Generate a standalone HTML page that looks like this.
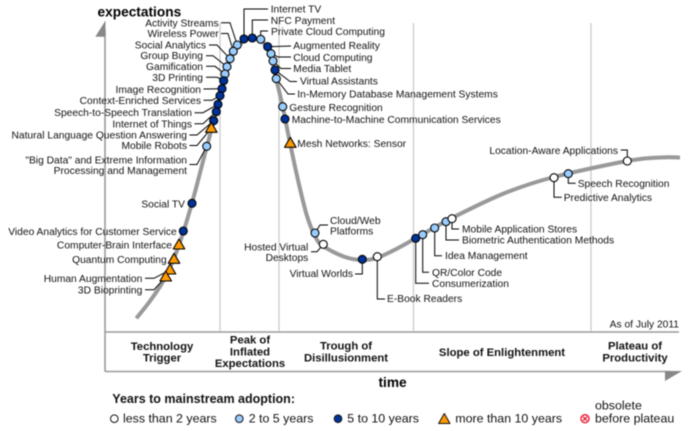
<!DOCTYPE html>
<html lang="en">
<head>
<meta charset="utf-8">
<title>Hype Cycle for Emerging Technologies, 2011</title>
<style>
html,body{margin:0;padding:0;background:#fff;width:690px;height:431px;overflow:hidden}
svg{display:block;font-family:"Liberation Sans",Arial,sans-serif;filter:blur(0.4px)}
.lbl{font-size:10.25px;fill:#111}
.phase{font-size:11.3px;font-weight:bold;fill:#111;text-anchor:middle}
.leg{font-size:12.4px;fill:#111}
</style>
</head>
<body>
<svg id="chart" width="690" height="431" viewBox="0 0 690 431" xmlns="http://www.w3.org/2000/svg">
  <g stroke="#d2d2d2" stroke-width="1.5">
    <line x1="220" y1="23" x2="220" y2="331"/>
    <line x1="279" y1="23" x2="279" y2="331"/>
    <line x1="413.5" y1="23" x2="413.5" y2="331"/>
    <line x1="591" y1="23" x2="591" y2="331"/>
  </g>
  <g stroke="#999" stroke-width="1.6" fill="none">
    <line x1="105" y1="30" x2="105" y2="371.5"/>
    <line x1="105" y1="332" x2="679" y2="332"/>
    <line x1="105" y1="371.5" x2="670" y2="371.5"/>
  </g>
  <polygon points="95.3,36.7 105.5,36.7 105.5,20.5" fill="#888"/>
  <polygon points="665,371 682,371 665,381" fill="#888"/>
  <text x="97.5" y="16.5" font-size="13.7" font-weight="bold" fill="#000">expectations</text>
  <text x="378.5" y="387" font-size="13.7" font-weight="bold" fill="#000">time</text>
  <text class="lbl" x="679" y="327.5" text-anchor="end">As of July 2011</text>

  <g>
    <text class="phase" x="162" y="350">Technology</text>
    <text class="phase" x="162" y="361.5">Trigger</text>
    <text class="phase" x="250" y="343.5">Peak of</text>
    <text class="phase" x="250" y="355.5">Inflated</text>
    <text class="phase" x="250" y="367">Expectations</text>
    <text class="phase" x="346" y="349.5">Trough of</text>
    <text class="phase" x="346" y="361.5">Disillusionment</text>
    <text class="phase" x="502" y="356">Slope of Enlightenment</text>
    <text class="phase" x="635" y="349.5">Plateau of</text>
    <text class="phase" x="635" y="361.5">Productivity</text>
  </g>

  <g>
    <text x="112.3" y="403" font-size="12.5" font-weight="bold" fill="#111">Years to mainstream adoption:</text>
    <circle cx="114.3" cy="418.7" r="3.8" fill="#fff" stroke="#111" stroke-width="1"/>
    <text class="leg" x="123" y="422.7">less than 2 years</text>
    <circle cx="239.3" cy="418.7" r="3.8" fill="#99ccff" stroke="#111" stroke-width="1"/>
    <text class="leg" x="248.7" y="422.7">2 to 5 years</text>
    <circle cx="338" cy="418.7" r="3.8" fill="#003399" stroke="#111" stroke-width="1"/>
    <text class="leg" x="347.3" y="422.7">5 to 10 years</text>
    <polygon points="444.3,413.5 450,423.5 438.6,423.5" fill="#ff9900" stroke="#111" stroke-width="1" stroke-linejoin="round"/>
    <text class="leg" x="455.3" y="422.7">more than 10 years</text>
    <g stroke="#e8102a" fill="none">
      <circle cx="585" cy="418.7" r="4" stroke-width="1.3"/>
      <path d="M583 416.7l4 4M587 416.7l-4 4" stroke-width="1.2"/>
    </g>
    <text class="leg" x="595" y="409.7">obsolete</text>
    <text class="leg" x="595" y="422.7">before plateau</text>
  </g>

  <path id="hype-curve" fill="none" stroke="#999" stroke-width="4" stroke-linecap="butt" stroke-linejoin="round"/>
  <g id="leaders" fill="none" stroke="#000" stroke-width="1"></g>
  <g id="markers"></g>
  <g id="labels"></g>
</svg>
<script>
// --- chart data (time and expectations in axis units) ---
const curveTime = [6.26, 9, 12, 14.8, 17.4, 20.4, 21.8, 23.4, 25, 27, 29.4, 31.8, 33.2, 34.2, 35.6, 37, 38.6, 40.34, 42, 43.6, 48, 51.6, 54.6, 59, 62.2, 69.4, 80, 89.8, 104.4, 111, 115];
const curveExpectation = [4.57, 10.33, 18, 29, 43, 62, 70.67, 81, 91, 96, 97.83, 96.33, 92, 84.67, 74.67, 63, 50.67, 39, 32, 28.67, 25, 24, 24.83, 28.33, 31.33, 38, 46.33, 51.67, 57, 58.17, 58.17];
const technologies = ["Internet TV", "NFC Payment", "Private Cloud Computing", "Augmented Reality", "Cloud Computing", "Media Tablet", "Virtual Assistants", "In-Memory Database Management Systems", "Gesture Recognition", "Machine-to-Machine Communication Services", "Mesh Networks: Sensor", "Activity Streams", "Wireless Power", "Social Analytics", "Group Buying", "Gamification", "3D Printing", "Image Recognition", "Context-Enriched Services", "Speech-to-Speech Translation", "Internet of Things", "Natural Language Question Answering", "Mobile Robots", "\"Big Data\" and Extreme Information|Processing and Management", "Social TV", "Video Analytics for Customer Service", "Computer-Brain Interface", "Quantum Computing", "Human Augmentation", "3D Bioprinting", "Cloud/Web|Platforms", "Hosted Virtual|Desktops", "Virtual Worlds", "E-Book Readers", "Consumerization", "QR/Color Code", "Idea Management", "Biometric Authentication Methods", "Mobile Application Stores", "Predictive Analytics", "Speech Recognition", "Location-Aware Applications"];
const timeValues = [27.8, 29.46, 31.14, 32.54, 33.2, 33.6, 34, 34.26, 35.54, 36, 37.06, 26.46, 25.66, 25, 24.4, 24, 23.74, 23.4, 23, 22.6, 22.26, 21.74, 21.26, 20.34, 17.4, 15.66, 14.8, 13.8, 13, 12.14, 42, 43.66, 51.46, 54.46, 62.14, 63.54, 65.94, 68.2, 69.4, 89.8, 92.66, 104.46];
const expectationValues = [97.7, 98, 97.57, 95.1, 92.77, 90.33, 87.33, 84.43, 75.1, 71, 62.9, 95.67, 93.57, 91.1, 88.43, 86, 83.77, 81.1, 78.77, 75.9, 73.43, 70.43, 67.9, 61.9, 42.9, 33.67, 29, 24.23, 20.67, 18.33, 33, 29.23, 24.23, 25.1, 31.23, 32.43, 34.67, 36.77, 37.77, 51.43, 52.77, 57];
const adoptionGroups = ["5-10", "5-10", "2-5", "5-10", "2-5", "2-5", "5-10", "2-5", "2-5", "5-10", "10+", "2-5", "2-5", "2-5", "2-5", "2-5", "5-10", "5-10", "5-10", "5-10", "5-10", "5-10", "10+", "2-5", "5-10", "5-10", "10+", "10+", "10+", "10+", "2-5", "<2", "5-10", "<2", "5-10", "2-5", "2-5", "2-5", "<2", "<2", "2-5", "<2"];

// --- axis functions ---
function sx(t) { return 105 + t * 5; }
function sy(e) { return 332 - e * 3; }

// --- annotation layout (label placement, not data): [x, baseline, anchor] ---
const labelPlacement = [
  [270.7,12.5,"start"],[270.7,24,"start"],[271,35,"start"],[293.3,49,"start"],[293.3,61,"start"],[293.3,72,"start"],[300,84.5,"start"],[297.3,97.5,"start"],[289.3,111,"start"],[291.7,123,"start"],[297.3,147,"start"],
  [218.7,26.5,"end"],[218.7,37,"end"],[206,48.5,"end"],[203,59,"end"],[203,70,"end"],[203,81,"end"],[201,93,"end"],[201,104,"end"],[192,116,"end"],[192,127.5,"end"],[187,138.5,"end"],[187,149,"end"],[187,163.5,"end"],[185,207.5,"end"],[176.7,235,"end"],[172,248.5,"end"],[166.7,263,"end"],[142.3,282,"end"],[142.3,293.5,"end"],
  [330,224,"start"],[308.3,250.5,"end"],[353,277,"end"],[387,302,"start"],[432,287,"start"],[432,276,"start"],[445,259,"start"],[462,243.5,"start"],[462,232.5,"start"],[563.7,201,"start"],[577.7,187,"start"],[618,154,"end"]
];
const leaderRoutes = [
  [[268,9],[244,9]],[[268,20],[252.3,20]],[[268,31],[260.7,31]],[[291,46]],[[291,57],[278,57]],[[291,68.5],[281,68.5]],[[297,81.5],[290,81.5]],[[295,94],[288,94]],null,null,null,
  [[221,22.7],[230,22.7]],[[221,33.5],[228,33.5]],[[209,45],[217,45]],[[206,55.7],[213,55.7]],[[206,66.3],[215,66.3]],[[206,77.3],[217,77.3]],[[203.5,89]],[[203.5,100.3],[212,100.3]],[[194.5,112.7],[203,112.7]],[[194.5,123.7],[203,123.7]],[[189.5,135],[197,135]],[[189.5,145.5],[197,145.5]],[[189.5,164.5],[197,164.5]],null,null,null,null,[[145,278.3],[154,278.3]],[[145,289.7],[154,289.7]],
  [[328,225],[320,225]],[[311,251.7],[317,251.7]],[[355,274],[362.3,274]],[[385,299],[377.3,299]],[[429,283.3],[415.7,283.3]],[[429,272.3],[422.7,272.3]],[[442,255.7],[434.7,255.7]],[[459,240],[446,240]],[[459,229],[452,229]],[[561.7,197.3],[554,197.3]],[[575.7,183.3],[568.3,183.3]],[[620.7,150],[627.3,150]]
];

const NS = "http://www.w3.org/2000/svg";
const fillFor = { "<2": "#ffffff", "2-5": "#99ccff", "5-10": "#003399", "10+": "#ff9900" };

function slug(s) {
  return s.toLowerCase().replace(/[^a-z0-9]+/g, "-").replace(/^-|-$/g, "");
}

// smooth curve through the curve arrays
(function drawCurve() {
  const pts = curveTime.map(function (t, i) { return [sx(t), sy(curveExpectation[i])]; });
  let d = "M" + pts[0][0].toFixed(1) + " " + pts[0][1].toFixed(1);
  for (let i = 0; i < pts.length - 1; i++) {
    const p0 = pts[Math.max(i - 1, 0)], p1 = pts[i], p2 = pts[i + 1], p3 = pts[Math.min(i + 2, pts.length - 1)];
    const c1x = p1[0] + (p2[0] - p0[0]) / 6, c1y = p1[1] + (p2[1] - p0[1]) / 6;
    const c2x = p2[0] - (p3[0] - p1[0]) / 6, c2y = p2[1] - (p3[1] - p1[1]) / 6;
    d += "C" + c1x.toFixed(1) + " " + c1y.toFixed(1) + " " + c2x.toFixed(1) + " " + c2y.toFixed(1) + " " + p2[0].toFixed(1) + " " + p2[1].toFixed(1);
  }
  document.getElementById("hype-curve").setAttribute("d", d);
})();

const leaderLayer = document.getElementById("leaders");
const markerLayer = document.getElementById("markers");
const labelLayer = document.getElementById("labels");

technologies.forEach(function (name, i) {
  const px = sx(timeValues[i]);
  const py = sy(expectationValues[i]);
  const key = slug(name.split("|")[0]);

  // leader
  const route = leaderRoutes[i];
  if (route) {
    const line = document.createElementNS(NS, "polyline");
    
    
    line.setAttribute("points", route.concat([[px, py]]).map(function (p) { return p.join(","); }).join(" "));
    leaderLayer.appendChild(line);
  }

  // marker
  let mark;
  if (adoptionGroups[i] === "10+") {
    mark = document.createElementNS(NS, "polygon");
    mark.setAttribute("points", px + "," + (py - 6) + " " + (px + 5.8) + "," + (py + 4) + " " + (px - 5.8) + "," + (py + 4));
    mark.setAttribute("stroke-linejoin", "round");
  } else {
    mark = document.createElementNS(NS, "circle");
    mark.setAttribute("cx", px);
    mark.setAttribute("cy", py);
    mark.setAttribute("r", 4);
  }
  mark.setAttribute("fill", fillFor[adoptionGroups[i]]);
  mark.setAttribute("stroke", "#000");
  mark.setAttribute("stroke-width", "1.1");
  
  
  markerLayer.appendChild(mark);

  // label
  const place = labelPlacement[i];
  name.split("|").forEach(function (line, k) {
    const t = document.createElementNS(NS, "text");
    t.setAttribute("class", "lbl");
    t.setAttribute("x", place[0]);
    t.setAttribute("y", place[1] + k * 10.7);
    t.setAttribute("text-anchor", place[2]);
    
    
    t.textContent = line;
    labelLayer.appendChild(t);
  });
});
</script>
</body>
</html>
